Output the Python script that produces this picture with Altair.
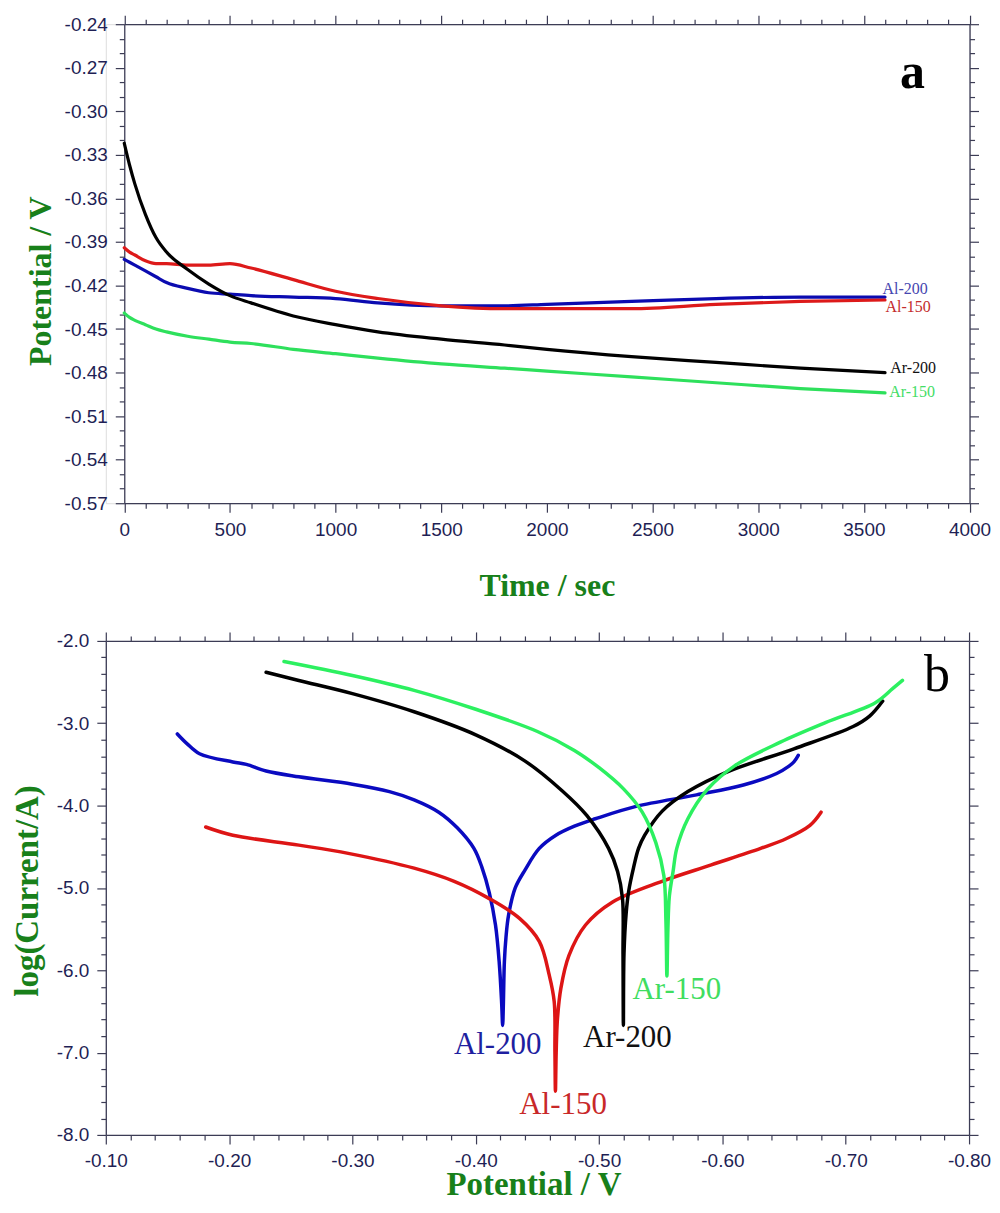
import altair as alt
import pandas as pd

# ---------------- Panel a: open-circuit potential vs time ----------------
time_s = [0, 25, 50, 100, 150, 200, 300, 400, 500, 600, 800, 1000, 1200,
          1500, 1800, 2000, 2400, 2800, 3200, 3600]
ocp_al200 = [-0.402, -0.404, -0.406, -0.410, -0.414, -0.418, -0.422, -0.425,
             -0.426, -0.427, -0.428, -0.429, -0.432, -0.434, -0.434, -0.433,
             -0.431, -0.429, -0.428, -0.428]
ocp_al150 = [-0.394, -0.397, -0.399, -0.403, -0.405, -0.405, -0.406, -0.406,
             -0.405, -0.408, -0.416, -0.424, -0.429, -0.434, -0.436, -0.436,
             -0.436, -0.433, -0.431, -0.430]
ocp_ar200 = [-0.322, -0.337, -0.350, -0.371, -0.387, -0.397, -0.409, -0.419,
             -0.427, -0.432, -0.441, -0.447, -0.452, -0.457, -0.461, -0.464,
             -0.469, -0.473, -0.477, -0.480]
ocp_ar150 = [-0.439, -0.442, -0.444, -0.447, -0.450, -0.452, -0.455, -0.457,
             -0.459, -0.460, -0.464, -0.467, -0.470, -0.474, -0.477, -0.479,
             -0.483, -0.487, -0.491, -0.494]

series_names = ["Al-200", "Al-150", "Ar-200", "Ar-150"]
line_colors_a = ["#0b0bb0", "#dd1a1a", "#000000", "#2ee05c"]
label_colors_a = ["#4646b0", "#c42c2c", "#111111", "#44dd66"]

end_label_t = [3588, 3602, 3625, 3620]
end_label_v = [-0.4222, -0.4346, -0.4772, -0.4937]

# ---------------- Panel b: Tafel curves ----------------
al200_E = [-0.158, -0.166, -0.176, -0.203, -0.214, -0.230, -0.2565, -0.300, -0.330,
           -0.350, -0.370, -0.385, -0.3985, -0.405, -0.411, -0.416, -0.419, -0.421,
           -0.4218, -0.4224, -0.4232, -0.4245, -0.4266, -0.432, -0.440, -0.4515,
           -0.465, -0.480, -0.497, -0.530, -0.579, -0.617, -0.644, -0.654, -0.658,
           -0.6615]
al200_L = [-3.13, -3.25, -3.37, -3.47, -3.50, -3.58, -3.65, -3.74, -3.83, -3.93,
           -4.08, -4.27, -4.52, -4.75, -5.06, -5.45, -5.90, -6.40, -6.67, -6.40,
           -5.90, -5.60, -5.33, -5.00, -4.78, -4.52, -4.36, -4.25, -4.16, -4.01,
           -3.87, -3.75, -3.61, -3.52, -3.47, -3.39]
al150_E = [-0.181, -0.203, -0.2565, -0.2966, -0.350, -0.3825, -0.411, -0.4355,
           -0.4515, -0.4596, -0.4636, -0.4642, -0.4646, -0.4652, -0.4662, -0.469,
           -0.4756, -0.489, -0.511, -0.551, -0.591, -0.631, -0.652, -0.671, -0.680]
al150_L = [-4.26, -4.36, -4.48, -4.58, -4.76, -4.92, -5.13, -5.37, -5.65, -6.06,
           -6.38, -7.00, -7.47, -7.00, -6.60, -6.22, -5.82, -5.45, -5.17, -4.92,
           -4.72, -4.52, -4.40, -4.24, -4.08]
ar200_E = [-0.230, -0.2565, -0.300, -0.350, -0.400, -0.440, -0.470, -0.490, -0.5077,
           -0.515, -0.519, -0.5194, -0.5197, -0.5202, -0.522, -0.524, -0.528, -0.532,
           -0.537, -0.551, -0.572, -0.604, -0.658, -0.706, -0.7196, -0.730]
ar200_L = [-2.38, -2.48, -2.64, -2.86, -3.14, -3.46, -3.82, -4.12, -4.52, -4.80,
           -5.13, -5.80, -6.67, -5.80, -5.30, -5.04, -4.75, -4.52, -4.36, -4.07,
           -3.83, -3.59, -3.31, -3.04, -2.91, -2.73]
ar150_E = [-0.2445, -0.300, -0.350, -0.400, -0.450, -0.480, -0.500, -0.520, -0.535,
           -0.546, -0.5525, -0.5542, -0.555, -0.5558, -0.557, -0.560, -0.563, -0.572,
           -0.588, -0.6096, -0.647, -0.684, -0.724, -0.738, -0.746]
ar150_L = [-2.25, -2.42, -2.60, -2.83, -3.10, -3.33, -3.54, -3.80, -4.08, -4.45,
           -4.85, -5.40, -6.07, -5.50, -5.10, -4.80, -4.52, -4.16, -3.80, -3.52,
           -3.23, -2.99, -2.75, -2.58, -2.48]

line_colors_b = ["#0a0ac0", "#dd1515", "#000000", "#2cf060"]
label_colors_b = ["#1f1fa0", "#c82828", "#111111", "#40dd60"]
label_b_E = [-0.4178, -0.4708, -0.523, -0.563]
label_b_L = [-6.909, -7.636, -6.824, -6.242]

# ---------------- styling ----------------
GREEN = "#18801a"
NAVY = "#1f1f55"
AXC = "#3c3c55"
SANS = "Liberation Sans"
SERIF = "Liberation Serif"

# ---------------- data frames ----------------
rows = []
for name, vals in zip(series_names, [ocp_al200, ocp_al150, ocp_ar200, ocp_ar150]):
    for t, v in zip(time_s, vals):
        rows.append({"t": t, "v": v, "series": name})
df_a = pd.DataFrame(rows)
df_a_lab = pd.DataFrame({"t": end_label_t, "v": end_label_v, "series": series_names})
df_a_letter = pd.DataFrame({"t": [3730], "v": [-0.284], "txt": ["a"]})

rows = []
for name, Es, Ls in zip(series_names, [al200_E, al150_E, ar200_E, ar150_E],
                        [al200_L, al150_L, ar200_L, ar150_L]):
    for i, (e, l) in enumerate(zip(Es, Ls)):
        rows.append({"E": e, "L": l, "series": name, "idx": i})
df_b = pd.DataFrame(rows)
df_b_lab = pd.DataFrame({"E": label_b_E, "L": label_b_L, "series": series_names})
df_b_letter = pd.DataFrame({"E": [-0.774], "L": [-2.606], "txt": ["b"]})

MINUS = "\u2212"

def axis_common(**kw):
    base = dict(grid=False, domainColor=AXC, tickColor=AXC, domainWidth=1.3, tickWidth=1.2,
                labelFont=SANS, labelFontSize=19, labelColor=NAVY, labelPadding=8,
                labelFlush=False, labelOverlap=False,
                titleFont=SERIF, titleFontSize=32, titleFontWeight="bold", titleColor=GREEN)
    base.update(kw)
    return alt.Axis(**base)

# panel a sits 18.5 px to the right of panel b's plot origin
SHIFT_A = 18.5
PLOT_A = 847
WIDTH_A = PLOT_A + SHIFT_A
WIDTH_B = 865

# ---- Panel a axes ----
xa_vals = list(range(0, 4001, 100))
xa_major = "datum.value % 500 === 0"
ya_vals = [round(-0.57 + 0.01 * i, 2) for i in range(34)]
ya_major = "abs(round(datum.value*100)) % 3 === 0"

xa_scale = alt.Scale(domain=[0, 4000], nice=False, zero=False, range=[SHIFT_A, WIDTH_A])
ya_scale = alt.Scale(domain=[-0.57, -0.24], nice=False, zero=False)

tick_a_x = {"condition": {"test": xa_major, "value": 9}, "value": 5}
tick_a_y = {"condition": {"test": ya_major, "value": 9}, "value": 5}

xa_axis = axis_common(values=xa_vals, tickSize=tick_a_x,
                      labelExpr=f"{xa_major} ? format(datum.value, 'd') : ''",
                      title="Time / sec", titleX=SHIFT_A + PLOT_A / 2, titleY=92, titleBaseline="alphabetic")
ya_axis = axis_common(values=ya_vals, tickSize=tick_a_y, offset=-SHIFT_A,
                      labelExpr=f"{ya_major} ? replace(format(datum.value, '.2f'), '{MINUS}', '-') : ''",
                      title="Potential / V", titleX=-73.5, titleY=257, titleAngle=-90,
                      titleBaseline="alphabetic", titleAlign="center")
xa_top = axis_common(values=xa_vals, tickSize=tick_a_x, labels=False, title=None, orient="top")
ya_right = axis_common(values=ya_vals, tickSize=tick_a_y, labels=False, title=None, orient="right")

lines_a = alt.Chart(df_a).mark_line(strokeWidth=3.2, interpolate="monotone", strokeCap="round").encode(
    x=alt.X("t:Q", scale=xa_scale, axis=xa_axis),
    y=alt.Y("v:Q", scale=ya_scale, axis=ya_axis),
    color=alt.Color("series:N", scale=alt.Scale(domain=series_names, range=line_colors_a), legend=None),
    detail="series:N",
)
labels_a = alt.Chart(df_a_lab).mark_text(font=SERIF, fontSize=16, align="left", baseline="middle").encode(
    x=alt.X("t:Q", scale=xa_scale, axis=xa_top),
    y=alt.Y("v:Q", scale=ya_scale, axis=ya_right),
    text="series:N",
    color=alt.Color("series:N", scale=alt.Scale(domain=series_names, range=label_colors_a), legend=None),
)
letter_a = alt.Chart(df_a_letter).mark_text(font=SERIF, fontSize=50, fontWeight="bold",
                                            align="center", baseline="alphabetic", color="#000000").encode(
    x=alt.X("t:Q", scale=xa_scale, axis=None),
    y=alt.Y("v:Q", scale=ya_scale, axis=None),
    text="txt:N",
)
panel_a = alt.layer(lines_a, labels_a, letter_a).resolve_axis(
    x="independent", y="independent").resolve_scale(color="independent").properties(width=WIDTH_A, height=480)

# ---- Panel b axes ----
xb_vals = [round(-0.10 - 0.02 * i, 2) for i in range(36)]
xb_major = "abs(round(datum.value*100)) % 10 === 0"
yb_vals = [round(-8.0 + 0.2 * i, 1) for i in range(31)]
yb_major = "abs(round(datum.value*10)) % 10 === 0"

xb_scale = alt.Scale(domain=[-0.80, -0.10], reverse=True, nice=False, zero=False)
yb_scale = alt.Scale(domain=[-8.0, -2.0], nice=False, zero=False)

tick_b_x = {"condition": {"test": xb_major, "value": 9}, "value": 5}
tick_b_y = {"condition": {"test": yb_major, "value": 9}, "value": 5}

xb_axis = axis_common(values=xb_vals, tickSize=tick_b_x,
                      labelExpr=f"{xb_major} ? replace(format(datum.value, '.2f'), '{MINUS}', '-') : ''",
                      title="Potential / V", titleFontSize=33, titleX=WIDTH_B / 2 - 4, titleY=60,
                      titleBaseline="alphabetic")
yb_axis = axis_common(values=yb_vals, tickSize=tick_b_y,
                      labelExpr=f"{yb_major} ? replace(format(datum.value, '.1f'), '{MINUS}', '-') : ''",
                      title="log(Current/A)", titleFontSize=33, titleX=-68, titleY=250, titleAngle=-90,
                      titleBaseline="alphabetic", titleAlign="center")
xb_top = axis_common(values=xb_vals, tickSize=tick_b_x, labels=False, title=None, orient="top")
yb_right = axis_common(values=yb_vals, tickSize=tick_b_y, labels=False, title=None, orient="right")

lines_b = alt.Chart(df_b).mark_line(strokeWidth=3.5, strokeCap="round", strokeJoin="round",
                                    interpolate="catmull-rom").encode(
    x=alt.X("E:Q", scale=xb_scale, axis=xb_axis),
    y=alt.Y("L:Q", scale=yb_scale, axis=yb_axis),
    color=alt.Color("series:N", scale=alt.Scale(domain=series_names, range=line_colors_b), legend=None),
    detail="series:N",
    order="idx:Q",
)
labels_b = alt.Chart(df_b_lab).mark_text(font=SERIF, fontSize=31, align="center", baseline="middle").encode(
    x=alt.X("E:Q", scale=xb_scale, axis=xb_top),
    y=alt.Y("L:Q", scale=yb_scale, axis=yb_right),
    text="series:N",
    color=alt.Color("series:N", scale=alt.Scale(domain=series_names, range=label_colors_b), legend=None),
)
letter_b = alt.Chart(df_b_letter).mark_text(font=SERIF, fontSize=52, align="center",
                                            baseline="alphabetic", color="#000000").encode(
    x=alt.X("E:Q", scale=xb_scale, axis=None),
    y=alt.Y("L:Q", scale=yb_scale, axis=None),
    text="txt:N",
)
panel_b = alt.layer(lines_b, labels_b, letter_b).resolve_axis(
    x="independent", y="independent").resolve_scale(color="independent").properties(width=WIDTH_B, height=495)

chart = alt.vconcat(panel_a, panel_b, spacing=138, bounds="flush").properties(
    padding={"left": 3, "top": 4, "right": 0, "bottom": 0}
).configure_view(stroke=None).configure(background="white")

chart.save("out.html", embed_options={"renderer": "svg", "actions": False})
